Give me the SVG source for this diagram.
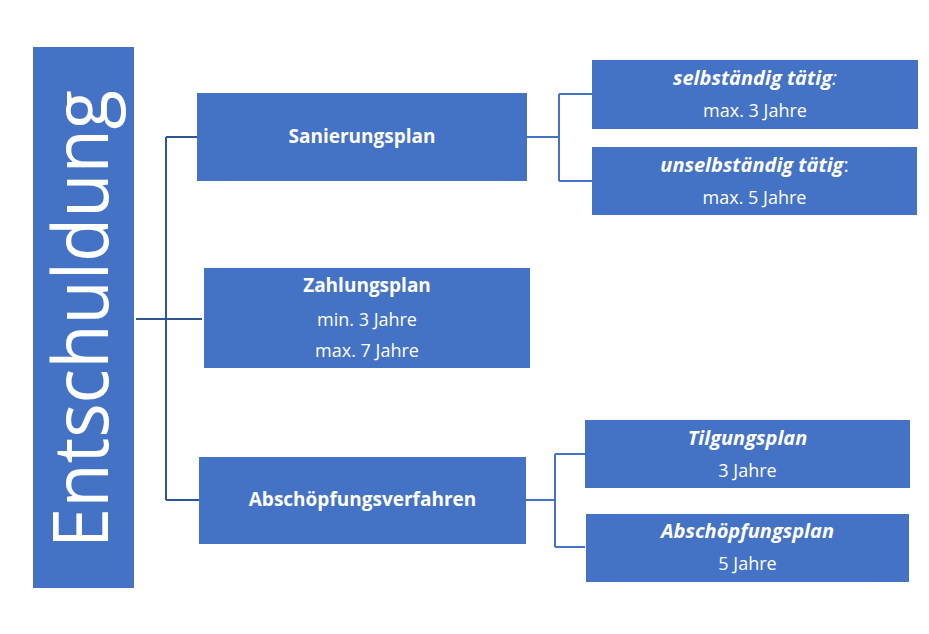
<svg xmlns="http://www.w3.org/2000/svg" width="929" height="634" viewBox="0 0 929 634">
<style>
.box{fill:#4472C4}
.t{fill:#fff;font-family:"Open Sans","Noto Sans",sans-serif;font-size:18px;text-anchor:middle}
.b{font-weight:bold;font-size:19px}
.bi{font-weight:bold;font-style:italic;font-size:20px}
.main{fill:none;stroke:#2F5597;stroke-width:2}
.sub{fill:none;stroke:#4472C4;stroke-width:2}
</style>
<rect width="929" height="634" fill="#fff"/>
<g id="connectors">
<path class="main" d="M136 319H202M166 137V500M166 137H197M166 500H199"/>
<path class="sub" d="M527 137H559M559 94V181M559 94H592M559 181H592"/>
<path class="sub" d="M526 500H555M555 454V547M555 454H585M555 547H585"/>
</g>
<g id="entschuldung">
<rect class="box" x="33" y="47" width="101" height="541"/>
<text transform="translate(108,319) rotate(-90)" fill="#fff" font-family="Open Sans, Noto Sans, sans-serif" font-weight="400" font-size="76" text-anchor="middle" textLength="458" lengthAdjust="spacingAndGlyphs">Entschuldung</text>
</g>
<g id="sanierungsplan">
<rect class="box" x="197" y="93" width="330" height="88"/>
<text class="t b" x="362" y="143">Sanierungsplan</text>
</g>
<g id="zahlungsplan">
<rect class="box" x="204" y="268" width="326" height="100"/>
<text class="t b" x="367" y="292">Zahlungsplan</text>
<text class="t" x="367" y="326">min. 3 Jahre</text>
<text class="t" x="367" y="357">max. 7 Jahre</text>
</g>
<g id="abschoepfungsverfahren">
<rect class="box" x="199" y="457" width="327" height="87"/>
<text class="t b" x="362.5" y="506">Abschöpfungsverfahren</text>
</g>
<g id="selbstaendig">
<rect class="box" x="592" y="60" width="326" height="69"/>
<text class="t" x="755" y="85"><tspan class="bi">selbständig tätig</tspan><tspan font-style="italic" font-size="20">:</tspan></text>
<text class="t" x="755" y="117">max. 3 Jahre</text>
</g>
<g id="unselbstaendig">
<rect class="box" x="592" y="147" width="325" height="68"/>
<text class="t" x="754.5" y="172"><tspan class="bi">unselbständig tätig</tspan><tspan font-size="20">:</tspan></text>
<text class="t" x="754.5" y="204">max. 5 Jahre</text>
</g>
<g id="tilgungsplan">
<rect class="box" x="585" y="420" width="325" height="68"/>
<text class="t bi" x="747.5" y="445">Tilgungsplan</text>
<text class="t" x="747.5" y="477">3 Jahre</text>
</g>
<g id="abschoepfungsplan">
<rect class="box" x="586" y="514" width="323" height="68"/>
<text class="t bi" x="747.5" y="538">Abschöpfungsplan</text>
<text class="t" x="747.5" y="570">5 Jahre</text>
</g>
</svg>
